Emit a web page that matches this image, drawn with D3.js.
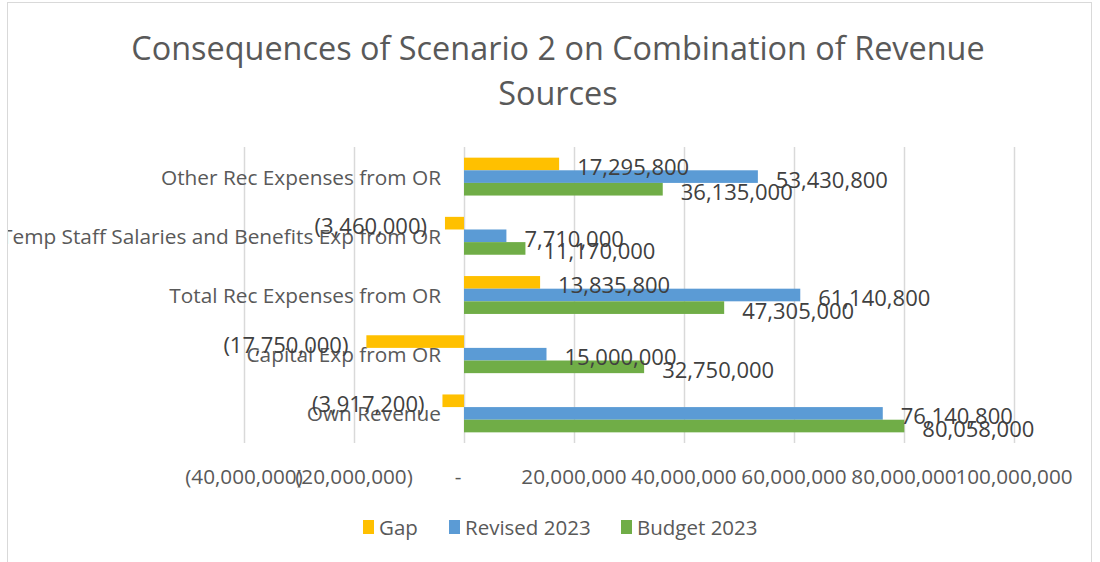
<!DOCTYPE html>
<html>
<head>
<meta charset="utf-8">
<script src="https://cdn.jsdelivr.net/npm/d3@7"></script>
<style>
  body { margin: 0; background: #fff; }
  svg { display: block; font-family: "Open Sans", sans-serif; }
</style>
</head>
<body>
<div id="chart"></div>
<script>
// categories, top to bottom as drawn
const categories = [
  "Other Rec Expenses from OR",
  "Temp Staff Salaries and Benefits Exp from OR",
  "Total Rec Expenses from OR",
  "Capital Exp from OR",
  "Own Revenue"
];
const seriesNames = ["Gap", "Revised 2023", "Budget 2023"];
const seriesColors = ["#FFC000", "#5B9BD5", "#70AD47"];

const gap      = [17295800, -3460000, 13835800, -17750000, -3917200];
const revised  = [53430800,  7710000, 61140800,  15000000, 76140800];
const budget   = [36135000, 11170000, 47305000,  32750000, 80058000];

const tickValues = [-40000000, -20000000, 0, 20000000, 40000000, 60000000, 80000000, 100000000];
const titleLines = ["Consequences of Scenario 2 on Combination of Revenue", "Sources"];

const width = 1100, height = 562;
const textGray = "#595959", labelGray = "#404040", gridGray = "#D9D9D9";

const svg = d3.select("#chart").append("svg")
  .attr("width", width)
  .attr("height", height);

// clip to the chart area, like the spreadsheet does
svg.append("clipPath").attr("id", "area")
  .append("rect").attr("x", 8).attr("y", 3).attr("width", 1083).attr("height", 620);

// chart area border
svg.append("rect")
  .attr("x", 7.5).attr("y", 2.5)
  .attr("width", 1084).attr("height", 620)
  .attr("fill", "none")
  .attr("stroke", gridGray);

const g = svg.append("g").attr("clip-path", "url(#area)");

// title
g.append("g").selectAll("text")
  .data(titleLines)
  .join("text")
  .attr("x", 558)
  .attr("y", (d, i) => 47 + i * 45)
  .attr("text-anchor", "middle")
  .attr("dominant-baseline", "central")
  .attr("font-size", 32.4)
  .attr("fill", textGray)
  .text(d => d);

// scales
const x = d3.scaleLinear().domain([-40000000, 100000000]).range([244, 1014]);
const y = d3.scaleBand().domain(categories).range([147, 443])
  .paddingInner(0.36).paddingOuter(0.18);
const ySub = d3.scaleBand().domain(seriesNames).range([0, y.bandwidth()]);

// gridlines
g.append("g").selectAll("line")
  .data(tickValues)
  .join("line")
  .attr("x1", d => Math.round(x(d)) + 0.5)
  .attr("x2", d => Math.round(x(d)) + 0.5)
  .attr("y1", 147).attr("y2", 443)
  .attr("stroke", gridGray)
  .attr("stroke-width", 1.5);

// tick labels, accounting style
const fmt = d3.format(",");
function acct(v) {
  if (v === 0) return "-";
  return v < 0 ? `(${fmt(-v)})` : fmt(v);
}
g.append("g").selectAll("text")
  .data(tickValues)
  .join("text")
  .attr("x", d => x(d) + (d === 0 ? -6 : 0))
  .attr("y", 476)
  .attr("text-anchor", "middle")
  .attr("dominant-baseline", "central")
  .attr("font-size", 20.7)
  .attr("fill", textGray)
  .text(d => acct(d));

// category labels
g.append("g").selectAll("text")
  .data(categories)
  .join("text")
  .attr("x", 441)
  .attr("y", d => y(d) + y.bandwidth() / 2)
  .attr("text-anchor", "end")
  .attr("dominant-baseline", "central")
  .attr("font-size", 20.8)
  .attr("fill", textGray)
  .text(d => d);

// bars
const seriesData = [gap, revised, budget];
const rows = [];
categories.forEach((c, i) => {
  seriesNames.forEach((s, j) => {
    rows.push({cat: c, series: s, value: seriesData[j][i], color: seriesColors[j]});
  });
});

g.append("g").selectAll("rect")
  .data(rows)
  .join("rect")
  .attr("x", d => x(Math.min(0, d.value)))
  .attr("y", d => y(d.cat) + ySub(d.series))
  .attr("width", d => Math.abs(x(d.value) - x(0)))
  .attr("height", ySub.bandwidth())
  .attr("fill", d => d.color);

// data labels
g.append("g").selectAll("text")
  .data(rows)
  .join("text")
  .attr("x", d => d.value < 0 ? x(d.value) - 18 : x(d.value) + 18)
  .attr("y", d => y(d.cat) + ySub(d.series) + ySub.bandwidth() / 2 + 2)
  .attr("text-anchor", d => d.value < 0 ? "end" : "start")
  .attr("dominant-baseline", "central")
  .attr("font-size", 22)
  .attr("fill", labelGray)
  .text(d => acct(d.value));

// legend
const legendX = [363, 449, 621];
const legend = g.append("g").selectAll("g")
  .data(seriesNames)
  .join("g")
  .attr("transform", (d, i) => `translate(${legendX[i]},527)`);
legend.append("rect")
  .attr("x", 0).attr("y", -7)
  .attr("width", 11).attr("height", 14)
  .attr("fill", (d, i) => seriesColors[i]);
legend.append("text")
  .attr("x", 16)
  .attr("y", 0)
  .attr("dominant-baseline", "central")
  .attr("font-size", 20.5)
  .attr("fill", textGray)
  .text(d => d);
</script>
</body>
</html>
